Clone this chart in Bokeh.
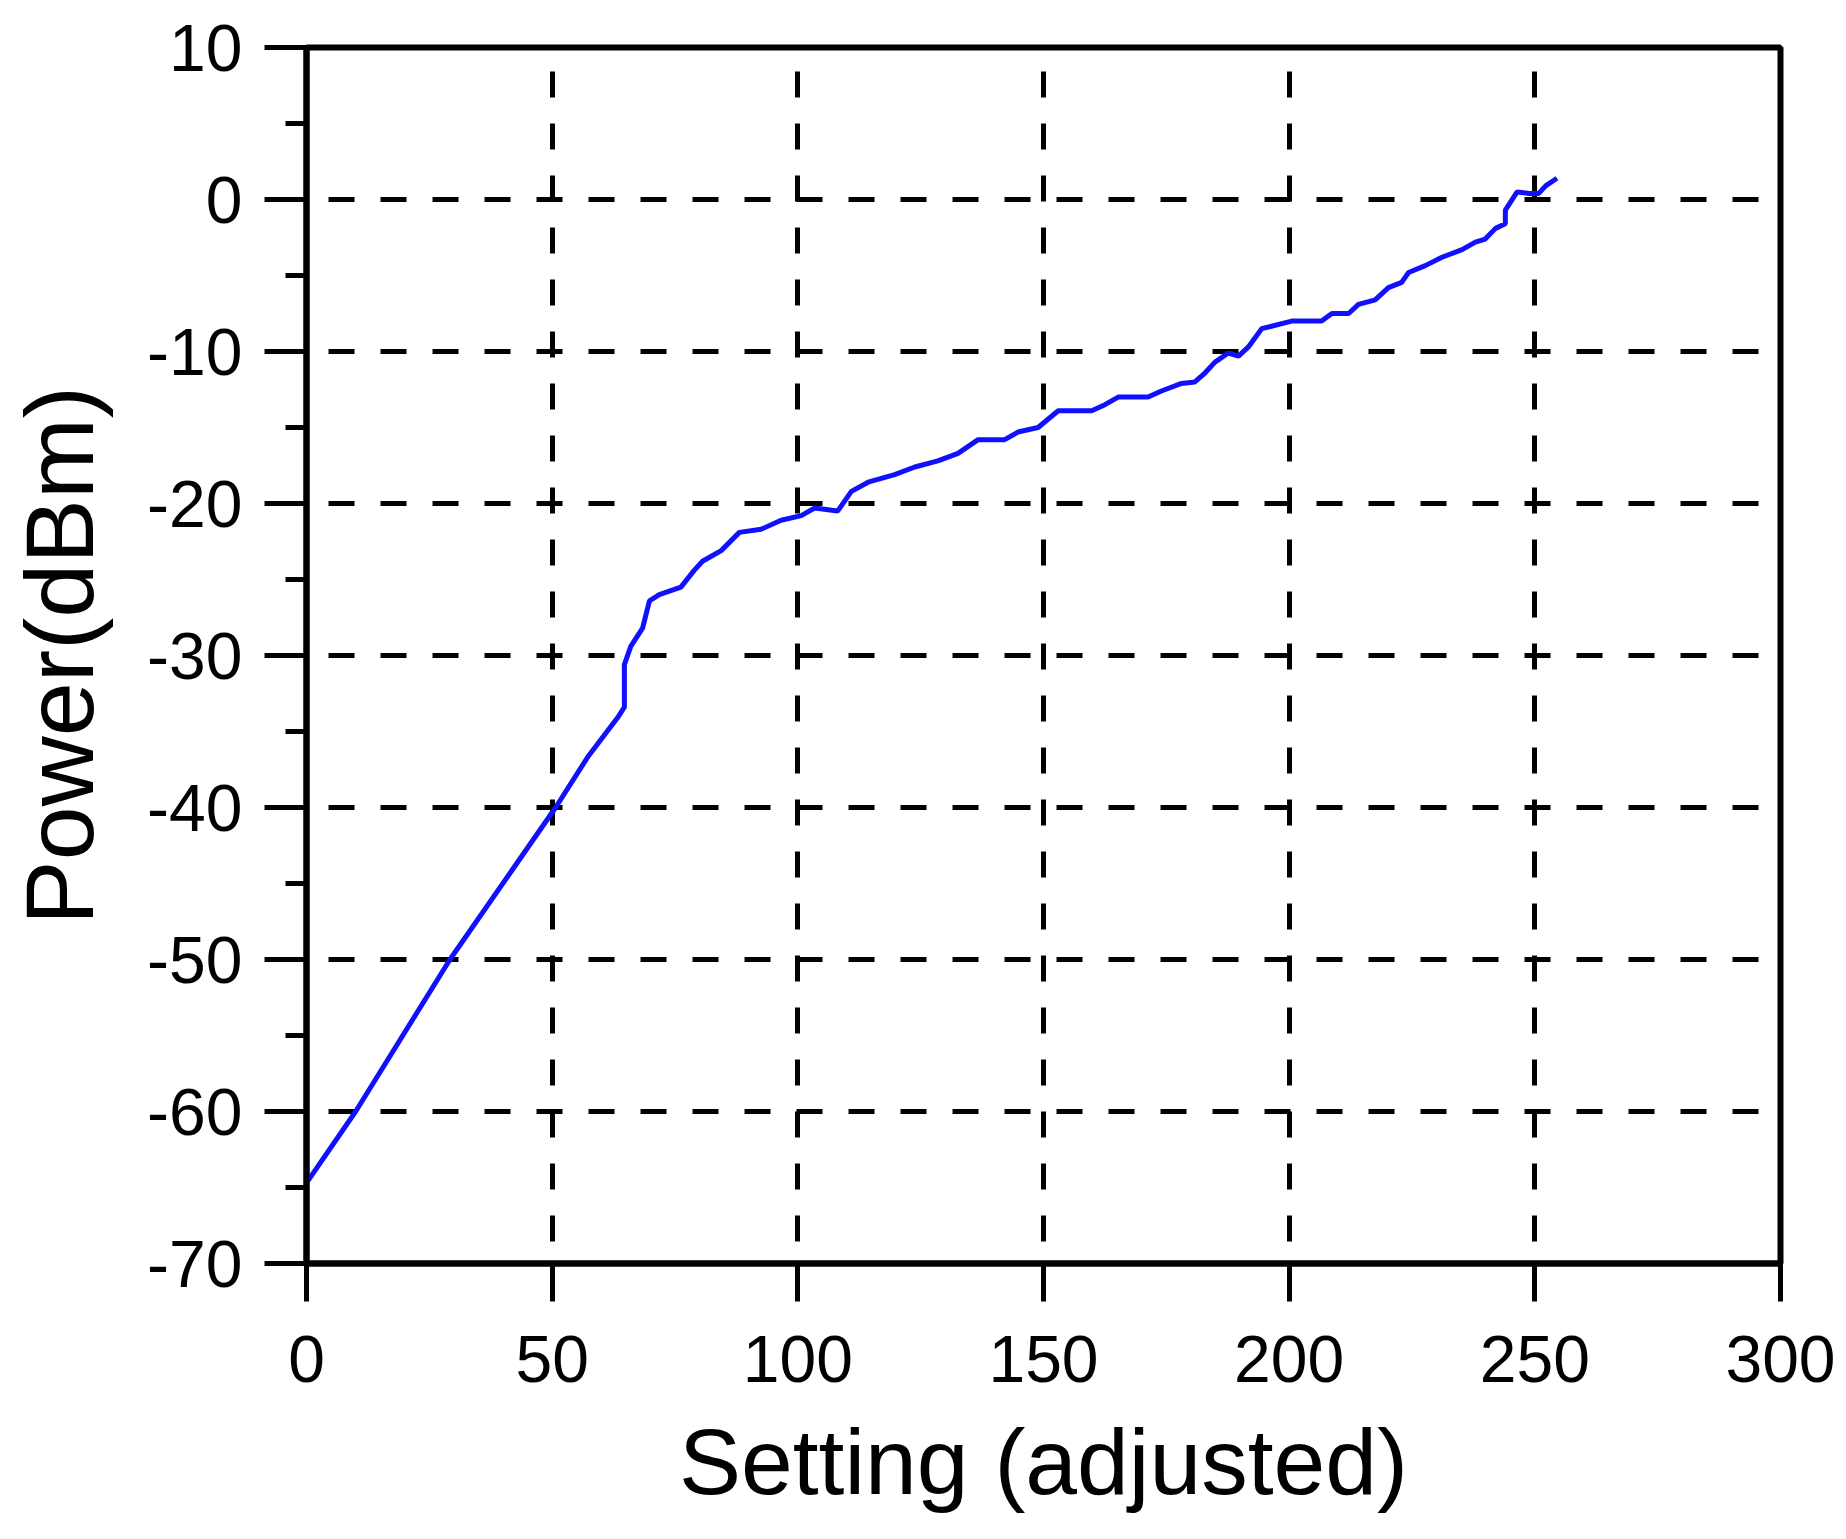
from bokeh.plotting import figure
from bokeh.models import FixedTicker, CustomJSTickFormatter, Range1d, ColumnDataSource
from bokeh.embed import file_html
from bokeh.resources import INLINE

# ---- data ----
setting_x = [0, 10, 29.2, 50.7, 57.2, 63.3, 64.7, 64.7, 66.0, 68.4, 69.8, 71.8, 76.2, 78.9,
             80.6, 84.4, 88.1, 92.5, 96.6, 100.7, 103.4, 108.1, 110.9, 114.3, 119.7, 123.8,
             128.5, 132.6, 136.7, 142.1, 144.8, 148.9, 153.0, 159.8, 162.5, 165.2, 171.3,
             174.0, 178.1, 180.8, 182.9, 184.9, 187.6, 189.7, 191.7, 194.4, 200.5, 206.6,
             208.7, 212.1, 214.1, 217.5, 220.2, 222.9, 224.3, 227.7, 231.1, 235.2, 237.9,
             239.9, 242.0, 244.0, 244.0, 246.4, 248.8, 250.8, 252.2, 254.5]
power_dbm = [-64.7, -60.0, -50.0, -40.0, -36.7, -34.1, -33.4, -30.6, -29.4, -28.2, -26.4, -26.0,
             -25.5, -24.4, -23.8, -23.1, -21.9, -21.7, -21.1, -20.8, -20.3, -20.5, -19.2, -18.6,
             -18.1, -17.6, -17.2, -16.7, -15.8, -15.8, -15.3, -15.0, -13.9, -13.9, -13.5, -13.0,
             -13.0, -12.6, -12.1, -12.0, -11.4, -10.7, -10.1, -10.3, -9.7, -8.5, -8.0, -8.0,
             -7.5, -7.5, -6.9, -6.6, -5.8, -5.45, -4.8, -4.35, -3.8, -3.3, -2.8, -2.6, -1.9,
             -1.6, -0.7, 0.5, 0.4, 0.4, 0.9, 1.4]

x_ticks = [0, 50, 100, 150, 200, 250, 300]
y_ticks = [-70, -60, -50, -40, -30, -20, -10, 0, 10]
y_minor_ticks = [-65, -55, -45, -35, -25, -15, -5, 5]
x_grid = [50, 100, 150, 200, 250]
y_grid = [-60, -50, -40, -30, -20, -10, 0]
x_label = "Setting (adjusted)"
y_label = "Power(dBm)"

FONT = "Liberation Sans"

p = figure(frame_width=1474, frame_height=1216,
           x_range=Range1d(0, 300), y_range=Range1d(-70, 10),
           output_backend="svg", toolbar_location=None,
           min_border_left=306, min_border_top=47, min_border_right=58,
           min_border_bottom=268,
           background_fill_color="white", border_fill_color="white")

p.outline_line_color = "black"
p.outline_line_width = 6

src = ColumnDataSource(dict(x=setting_x, y=power_dbm))
p.line("x", "y", source=src, line_color="#1010ff", line_width=5)

fmt = CustomJSTickFormatter(code="return tick.toFixed(0);")

# x axis
xa = p.xaxis[0]
xa.ticker = FixedTicker(ticks=x_ticks)
xa.formatter = fmt
xa.axis_label = x_label
xa.axis_line_width = 6
xa.axis_line_color = "black"
xa.major_tick_line_width = 5
xa.major_tick_line_color = "black"
xa.major_tick_out = 38
xa.major_tick_in = 0
xa.minor_tick_line_color = None
xa.major_label_standoff = 34
xa.major_label_text_font = FONT
xa.major_label_text_font_size = "66px"
xa.major_label_text_color = "black"
xa.axis_label_text_font = FONT
xa.axis_label_text_font_size = "93px"
xa.axis_label_text_font_style = "normal"
xa.axis_label_text_color = "black"
xa.axis_label_standoff = 25

# y axis
ya = p.yaxis[0]
ya.ticker = FixedTicker(ticks=y_ticks, minor_ticks=y_minor_ticks)
ya.formatter = fmt
ya.axis_label = y_label
ya.axis_line_width = 6
ya.axis_line_color = "black"
ya.major_tick_line_width = 5
ya.major_tick_line_color = "black"
ya.major_tick_out = 42
ya.major_tick_in = 0
ya.minor_tick_line_width = 5
ya.minor_tick_line_color = "black"
ya.minor_tick_out = 21
ya.minor_tick_in = 0
ya.major_label_standoff = 22
ya.major_label_text_font = FONT
ya.major_label_text_font_size = "66px"
ya.major_label_text_color = "black"
ya.axis_label_text_font = FONT
ya.axis_label_text_font_size = "97px"
ya.axis_label_text_font_style = "normal"
ya.axis_label_text_color = "black"
ya.axis_label_standoff = 30

# dashed grid
p.xgrid.ticker = FixedTicker(ticks=x_grid)
p.ygrid.ticker = FixedTicker(ticks=y_grid)
for g in (p.xgrid[0], p.ygrid[0]):
    g.grid_line_color = "black"
    g.grid_line_width = 5
    g.grid_line_dash = "26 26"
    g.grid_line_dash_offset = 30

open("out.html", "w").write(file_html(p, INLINE))
